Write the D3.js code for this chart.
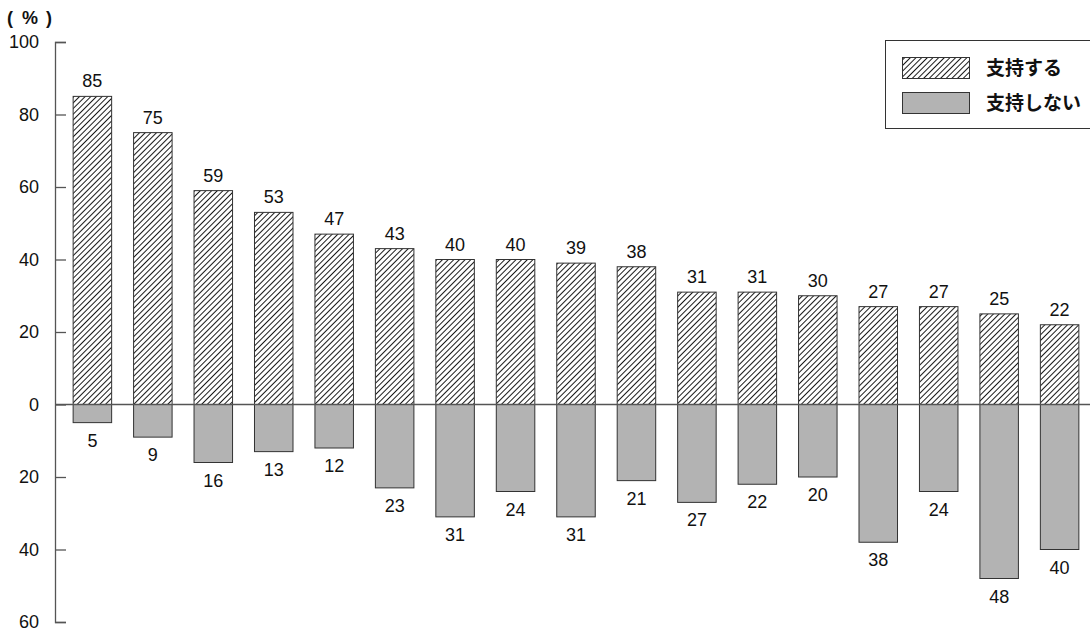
<!DOCTYPE html>
<html><head><meta charset="utf-8">
<script src="https://cdn.jsdelivr.net/npm/d3@7"></script>
<style>body{margin:0;background:#fff}svg{display:block}</style>
</head><body>
<svg id="c" width="1090" height="632"></svg>
<script>
const categories = d3.range(1, 18).map(String);
const support = [85,75,59,53,47,43,40,40,39,38,31,31,30,27,27,25,22];
const notSupport = [5,9,16,13,12,23,31,24,31,21,27,22,20,38,24,48,40];
const tickValues = [100,80,60,40,20,0,-20,-40,-60];
const legendLabels = ["支持する","支持しない"];

const svg = d3.select("#c");
const font = "Arial, 'Liberation Sans', sans-serif";
const defs = svg.append("defs");
const pat = defs.append("pattern").attr("id","hatch").attr("patternUnits","userSpaceOnUse")
  .attr("width",4).attr("height",4).attr("patternTransform","rotate(45)");
pat.append("rect").attr("width",4).attr("height",4).attr("fill","#fff");
pat.append("line").attr("x1",0.5).attr("y1",0).attr("x2",0.5).attr("y2",4).attr("stroke","#000").attr("stroke-width",0.9);

const y = d3.scaleLinear().domain([-60,100]).range([622,42]);
const x = d3.scaleBand().domain(categories).range([55,1097]).paddingInner(0.363).paddingOuter(0.3);

// axis
const axis = d3.axisLeft(y).tickValues(tickValues).tickSize(-11).tickPadding(14)
  .tickFormat(d => Math.abs(d));
const ag = svg.append("g").attr("transform","translate(55,0)").call(axis);
ag.select(".domain").attr("stroke","#555").attr("stroke-width",1.3);
ag.selectAll(".tick line").attr("stroke","#555").attr("stroke-width",1.3);
ag.selectAll(".tick text").attr("font-family",font).attr("font-size",18).attr("fill","#111").attr("x",-16);

// bars
const g = svg.append("g");
g.selectAll(".pos").data(support).join("rect")
  .attr("x",(d,i)=>x(categories[i])).attr("width",x.bandwidth())
  .attr("y",d=>y(d)).attr("height",d=>y(0)-y(d))
  .attr("fill","url(#hatch)").attr("stroke","#333").attr("stroke-width",1);
g.selectAll(".neg").data(notSupport).join("rect")
  .attr("x",(d,i)=>x(categories[i])).attr("width",x.bandwidth())
  .attr("y",y(0)).attr("height",d=>y(-d)-y(0))
  .attr("fill","#b3b3b3").attr("stroke","#333").attr("stroke-width",1);

// zero line
svg.append("line").attr("x1",55).attr("x2",1090).attr("y1",y(0)).attr("y2",y(0))
  .attr("stroke","#555").attr("stroke-width",1.3);

// labels
svg.selectAll(".pl").data(support).join("text")
  .attr("x",(d,i)=>x(categories[i])+x.bandwidth()/2).attr("y",d=>y(d)-9)
  .attr("text-anchor","middle").attr("font-family",font).attr("font-size",18).attr("fill","#111")
  .text(d=>d);
svg.selectAll(".nl").data(notSupport).join("text")
  .attr("x",(d,i)=>x(categories[i])+x.bandwidth()/2).attr("y",d=>y(-d)+24)
  .attr("text-anchor","middle").attr("font-family",font).attr("font-size",18).attr("fill","#111")
  .text(d=>d);

// unit
const ut = svg.append("text").attr("y",24).attr("font-family",font)
  .attr("font-weight","bold").attr("font-size",18).attr("fill","#111");
ut.append("tspan").attr("x",7).text("(");
ut.append("tspan").attr("x",22).text("%");
ut.append("tspan").attr("x",46).text(")");

// legend
const lg = svg.append("g");
lg.append("rect").attr("x",885.5).attr("y",40.5).attr("width",230).attr("height",88)
  .attr("fill","#fff").attr("stroke","#333").attr("stroke-width",1);
const fills = ["url(#hatch)","#b3b3b3"];
const ly = [57, 92];
legendLabels.forEach((t,i)=>{
  lg.append("rect").attr("x",902.5).attr("y",ly[i]+0.5).attr("width",67).attr("height",21)
    .attr("fill",fills[i]).attr("stroke","#333").attr("stroke-width",1);
  lg.append("text").attr("x",986).attr("y",ly[i]+18).attr("font-family","'Noto Sans CJK JP', sans-serif")
    .attr("font-weight","bold").attr("font-size",19).attr("fill","#111").text(t);
});
</script>
</body></html>
